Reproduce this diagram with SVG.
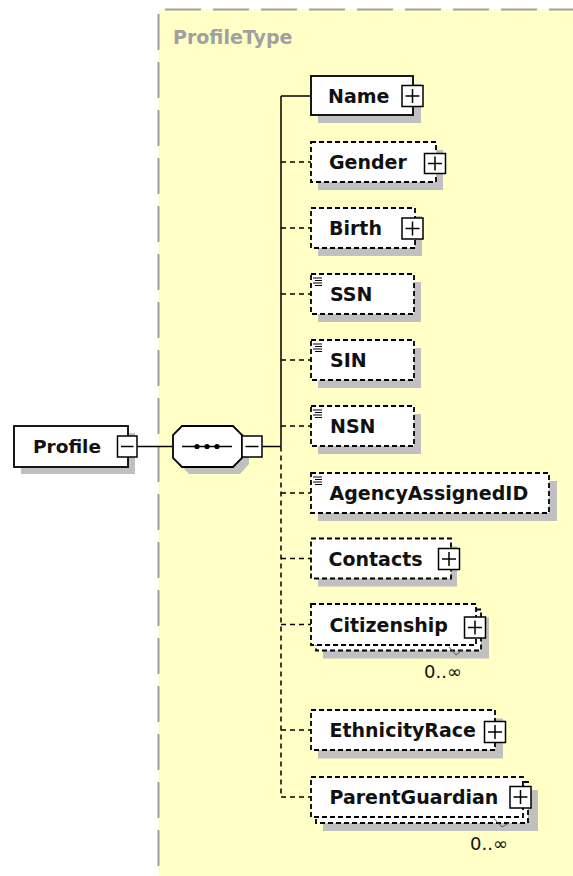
<svg xmlns="http://www.w3.org/2000/svg" width="573" height="876" viewBox="0 0 573 876">
<defs>
<style>
.t{font-family:"DejaVu Sans",Verdana,sans-serif;font-weight:bold;font-size:19px;fill:#111}
.occ{font-family:"DejaVu Sans",Verdana,sans-serif;font-size:18px;fill:#111}
.sh{fill:#c0c0c0}
.box{fill:#fff;stroke:#000;stroke-width:1.8}
.dbox{fill:#fff;stroke:#000;stroke-width:1.8;stroke-dasharray:5 3}
.btn{fill:#fff;stroke:#000;stroke-width:1.5}
.ln{fill:none;stroke:#000;stroke-width:1.5}
.dln{fill:none;stroke:#000;stroke-width:1.5;stroke-dasharray:5 4}
.ic{stroke:#000;stroke-width:1.2}
.brk{fill:none;stroke:#555;stroke-width:1}
</style>
</defs>
<rect x="0" y="0" width="573" height="876" fill="#fff"/>
<g id="ProfileType">
<rect x="158.5" y="9.5" width="420" height="870" fill="#ffffc6"/>
<path d="M165,9.5 H573" stroke="#a0a0a0" stroke-width="2" stroke-dasharray="36 12" fill="none"/>
<path d="M158.5,14 V876" stroke="#a0a0a0" stroke-width="2" stroke-dasharray="36 12" fill="none"/>
<text x="173" y="44" class="t" style="fill:#a0a0a0">ProfileType</text>
</g>
<g id="connectors">
<path class="ln" d="M137,446.5 H173"/>
<path class="ln" d="M262,446.5 H281"/>
<path class="ln" d="M281,96 V446.5"/>
<path class="dln" d="M281,446.5 V797"/>
<path class="ln" d="M281,96 H311"/>
<path class="dln" d="M281,162 H311"/>
<path class="dln" d="M281,228 H311"/>
<path class="dln" d="M281,294 H311"/>
<path class="dln" d="M281,360 H311"/>
<path class="dln" d="M281,426 H311"/>
<path class="dln" d="M281,493 H311"/>
<path class="dln" d="M281,558.5 H311"/>
<path class="dln" d="M281,624.5 H311"/>
<path class="dln" d="M281,730 H311"/>
<path class="dln" d="M281,797 H311"/>
</g>
<g id="Profile">
<rect class="sh" x="21" y="433" width="114" height="41"/>
<rect class="box" x="14" y="426" width="114" height="41"/>
<text x="33" y="453" class="t" style="font-size:18.5px">Profile</text>
<rect class="btn" x="117.5" y="436" width="19.5" height="21"/>
<path class="ln" d="M121,446.5 H133.5"/>
</g>
<g id="sequence">
<path class="sh" d="M189,433 H242 L249,440 V464 L240,474 H189 L180,464 V442 Z"/>
<path class="box" d="M182,426 H233 L242,435 V458 L233,467 H182 L173,458 V435 Z"/>
<path class="ln" d="M182,446.5 H232"/>
<circle cx="197" cy="446.5" r="2.6"/>
<circle cx="207" cy="446.5" r="2.6"/>
<circle cx="217" cy="446.5" r="2.6"/>
<rect class="btn" x="242" y="436" width="20" height="21"/>
<path class="ln" d="M245.5,446.5 H258.5"/>
</g>
<g id="Name">
<rect class="sh" x="318" y="84" width="103" height="39"/>
<rect class="box" x="311" y="76" width="102" height="39"/>
<text x="328" y="103" class="t">Name</text>
<rect class="btn" x="402" y="85.5" width="21" height="21"/>
<path class="ln" d="M405.5,96 H419.5 M412.5,89 V103"/>
</g>
<g id="Gender">
<rect class="sh" x="318" y="150" width="125" height="40"/>
<rect class="dbox" x="311" y="142" width="125" height="40"/>
<text x="329" y="169" class="t">Gender</text>
<rect class="btn" x="424.5" y="153.5" width="21" height="20"/>
<path class="ln" d="M428,163.5 H442 M435,156.5 V170.5"/>
</g>
<g id="Birth">
<rect class="sh" x="318" y="216" width="104" height="40"/>
<rect class="dbox" x="311" y="208" width="104" height="40"/>
<text x="329" y="235" class="t">Birth</text>
<rect class="btn" x="402" y="218" width="21" height="21"/>
<path class="ln" d="M405.5,228.5 H419.5 M412.5,221.5 V235.5"/>
</g>
<g id="SSN">
<rect class="sh" x="318" y="282" width="103" height="40"/>
<rect class="dbox" x="311" y="274" width="103" height="40"/>
<path class="ic" d="M313,278 H322 M315,280.5 H322 M313,283 H322 M315,285.5 H322"/>
<text x="330" y="301" class="t">SSN</text>
</g>
<g id="SIN">
<rect class="sh" x="318" y="348" width="103" height="40"/>
<rect class="dbox" x="311" y="340" width="103" height="40"/>
<path class="ic" d="M313,344 H322 M315,346.5 H322 M313,349 H322 M315,351.5 H322"/>
<text x="330" y="367" class="t">SIN</text>
</g>
<g id="NSN">
<rect class="sh" x="318" y="414" width="103" height="40"/>
<rect class="dbox" x="311" y="406" width="103" height="40"/>
<path class="ic" d="M313,410 H322 M315,412.5 H322 M313,415 H322 M315,417.5 H322"/>
<text x="330" y="433" class="t">NSN</text>
</g>
<g id="AgencyAssignedID">
<rect class="sh" x="318" y="481" width="239" height="40"/>
<rect class="dbox" x="311" y="473" width="238" height="40"/>
<path class="ic" d="M313,477 H322 M315,479.5 H322 M313,482 H322 M315,484.5 H322"/>
<text x="329.5" y="500" class="t">AgencyAssignedID</text>
</g>
<g id="Contacts">
<rect class="sh" x="318" y="546.5" width="139" height="40"/>
<rect class="dbox" x="311" y="538.5" width="140" height="40"/>
<text x="328.5" y="565.5" class="t">Contacts</text>
<rect class="btn" x="438.5" y="548.5" width="21" height="21"/>
<path class="ln" d="M442,559 H456 M449,552 V566"/>
</g>
<g id="Citizenship">
<rect class="sh" x="323" y="617.5" width="166" height="41"/>
<rect class="dbox" x="316" y="609.5" width="165" height="41"/>
<rect class="dbox" x="311" y="604" width="165" height="41"/>
<text x="329.5" y="631.5" class="t">Citizenship</text>
<rect class="btn" x="464.5" y="617" width="21" height="21"/>
<path class="ln" d="M468,627.5 H482 M475,620.5 V634.5"/>
<path class="brk" d="M449,647 L456,655 L462,650"/>
<text x="424" y="678" class="occ">0..∞</text>
</g>
<g id="EthnicityRace">
<rect class="sh" x="318" y="718.5" width="185" height="40"/>
<rect class="dbox" x="311" y="710" width="184" height="40"/>
<text x="329.5" y="737" class="t">EthnicityRace</text>
<rect class="btn" x="484.5" y="721.5" width="21" height="21"/>
<path class="ln" d="M488,732 H502 M495,725 V739"/>
</g>
<g id="ParentGuardian">
<rect class="sh" x="323" y="790" width="215" height="41"/>
<rect class="dbox" x="316" y="782" width="212" height="41"/>
<rect class="dbox" x="311" y="777" width="212" height="40"/>
<text x="329.5" y="804" class="t">ParentGuardian</text>
<rect class="btn" x="510" y="786.5" width="21" height="21.5"/>
<path class="ln" d="M513.5,797 H527.5 M520.5,790 V804"/>
<path class="brk" d="M494,818.5 L502,827 L509,823"/>
<text x="470" y="850" class="occ">0..∞</text>
</g>
</svg>
